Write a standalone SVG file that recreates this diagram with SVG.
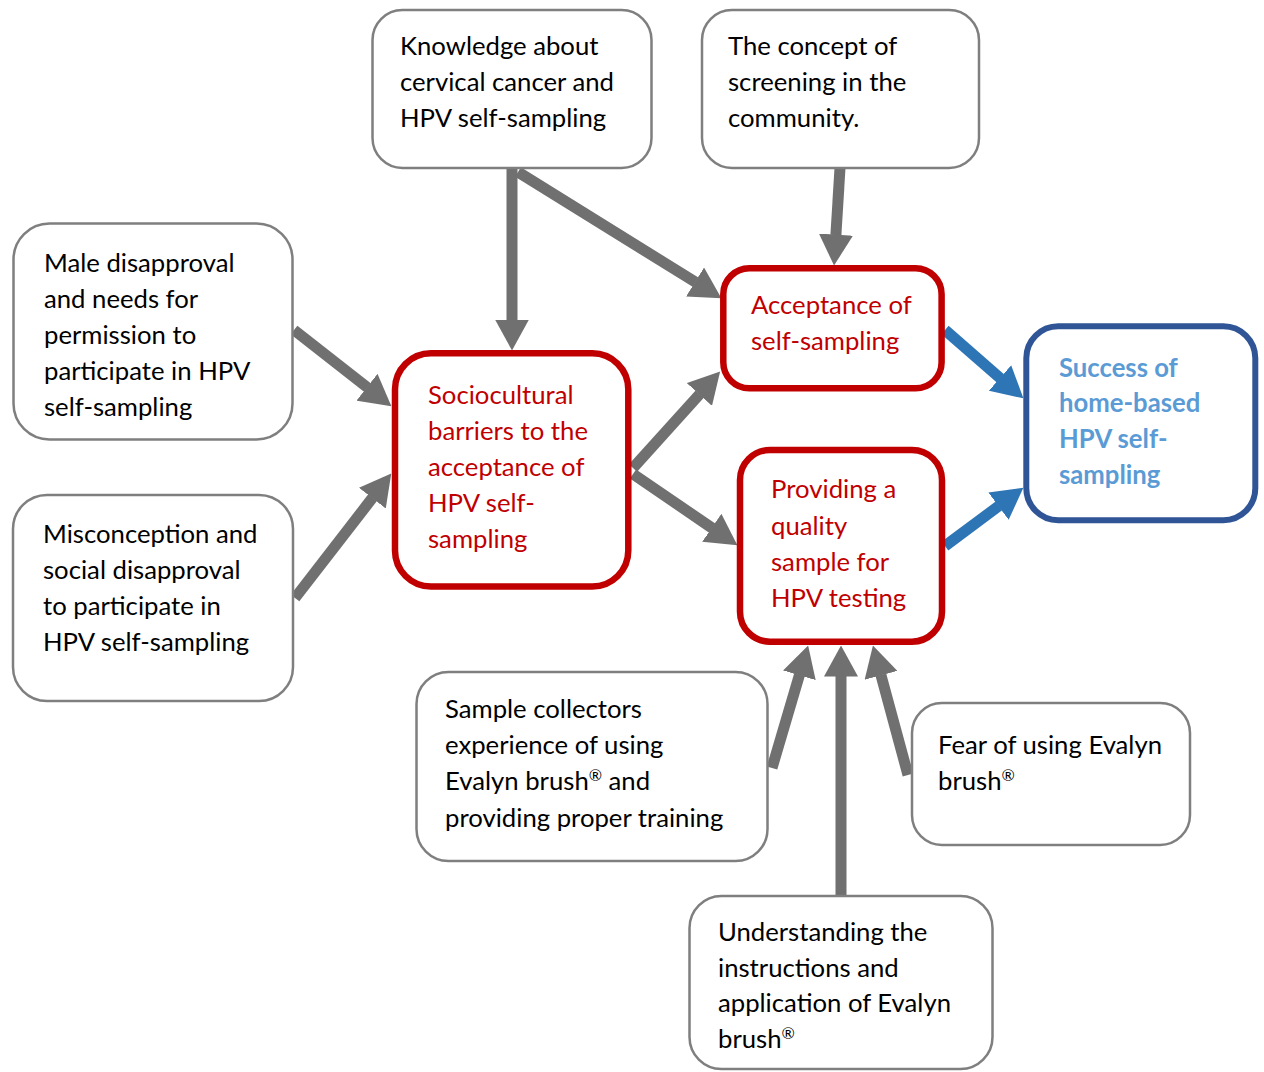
<svg xmlns="http://www.w3.org/2000/svg" width="1264" height="1072" viewBox="0 0 1264 1072">
<style>
.g{fill:#fff;stroke:#7f7f7f;stroke-width:2.5}
.r{fill:#fff;stroke:#c00000;stroke-width:6.5}
.b{fill:#fff;stroke:#2f5597;stroke-width:6}
text{font-family:Lato,"Open Sans","Liberation Sans",sans-serif;font-size:25.7px}
.tk{fill:#000}
.tr{fill:#c00000}
.tb{fill:#5b9bd5;font-weight:bold}
.ga{stroke:#707070;stroke-width:11;fill:none;marker-end:url(#ah)}
.ba{stroke:#2e75b6;stroke-width:11;fill:none;marker-end:url(#bh)}
.sup{font-size:16px}
</style>
<defs>
<marker id="ah" markerUnits="userSpaceOnUse" markerWidth="31" markerHeight="34" viewBox="0 0 31 34" refX="0.5" refY="17" orient="auto"><path d="M0,0 L31,17 L0,34 z" fill="#707070"/></marker>
<marker id="bh" markerUnits="userSpaceOnUse" markerWidth="31" markerHeight="34" viewBox="0 0 31 34" refX="0.5" refY="17" orient="auto"><path d="M0,0 L31,17 L0,34 z" fill="#2e75b6"/></marker>
</defs>
<g id="connectors">
<line class="ga" x1="512" y1="168" x2="512" y2="320"/>
<line class="ga" x1="518" y1="172" x2="695.5" y2="282.2"/>
<line class="ga" x1="840" y1="168" x2="835.9" y2="235.1"/>
<line class="ga" x1="294" y1="330" x2="367.4" y2="387.5"/>
<line class="ga" x1="295" y1="598" x2="372.6" y2="497.7"/>
<line class="ga" x1="633" y1="468" x2="699.7" y2="394.1"/>
<line class="ga" x1="633" y1="474" x2="712.2" y2="528.1"/>
<line class="ga" x1="772" y1="768" x2="799.5" y2="674.8"/>
<line class="ga" x1="841" y1="896" x2="841" y2="676"/>
<line class="ga" x1="908" y1="775" x2="880.9" y2="674.9"/>
<line class="ba" x1="945" y1="330" x2="1000.4" y2="378.3"/>
<line class="ba" x1="945" y1="546" x2="998.9" y2="505.9"/>
</g>
<g id="knowledge">
<rect class="g" x="372.5" y="10" width="279" height="158" rx="30"/>
<text class="tk"><tspan x="400" y="55">Knowledge about</tspan><tspan x="400" y="91">cervical cancer and</tspan><tspan x="400" y="127">HPV self-sampling</tspan></text>
</g>
<g id="concept">
<rect class="g" x="702" y="10" width="277" height="158" rx="30"/>
<text class="tk"><tspan x="728" y="55">The concept of</tspan><tspan x="728" y="91">screening in the</tspan><tspan x="728" y="127">community.</tspan></text>
</g>
<g id="male">
<rect class="g" x="13.5" y="223.5" width="279" height="216" rx="36"/>
<text class="tk"><tspan x="44" y="272">Male disapproval</tspan><tspan x="44" y="308">and needs for</tspan><tspan x="44" y="344">permission to</tspan><tspan x="44" y="380">participate in HPV</tspan><tspan x="44" y="416">self-sampling</tspan></text>
</g>
<g id="misconception">
<rect class="g" x="13" y="495" width="280" height="206" rx="34"/>
<text class="tk"><tspan x="43" y="543">Misconception and</tspan><tspan x="43" y="579">social disapproval</tspan><tspan x="43" y="615">to participate in</tspan><tspan x="43" y="651">HPV self-sampling</tspan></text>
</g>
<g id="sociocultural">
<rect class="r" x="395" y="353.3" width="233.3" height="233.3" rx="36"/>
<text class="tr"><tspan x="428" y="404">Sociocultural</tspan><tspan x="428" y="440">barriers to the</tspan><tspan x="428" y="476">acceptance of</tspan><tspan x="428" y="512">HPV self-</tspan><tspan x="428" y="548">sampling</tspan></text>
</g>
<g id="acceptance">
<rect class="r" x="723.3" y="268.3" width="218.3" height="120" rx="26"/>
<text class="tr"><tspan x="751" y="314">Acceptance of</tspan><tspan x="751" y="350">self-sampling</tspan></text>
</g>
<g id="providing">
<rect class="r" x="740" y="450" width="202" height="191.7" rx="30"/>
<text class="tr"><tspan x="771" y="498">Providing a</tspan><tspan x="771" y="535">quality</tspan><tspan x="771" y="571">sample for</tspan><tspan x="771" y="607">HPV testing</tspan></text>
</g>
<g id="success">
<rect class="b" x="1026.3" y="326.3" width="229" height="194" rx="32"/>
<text class="tb"><tspan x="1059" y="377">Success of</tspan><tspan x="1059" y="412">home-based</tspan><tspan x="1059" y="448">HPV self-</tspan><tspan x="1059" y="484">sampling</tspan></text>
</g>
<g id="collectors">
<rect class="g" x="416.5" y="672" width="351" height="189" rx="32"/>
<text class="tk"><tspan x="445" y="718">Sample collectors</tspan><tspan x="445" y="754">experience of using</tspan><tspan x="445" y="790">Evalyn brush</tspan><tspan class="sup" dy="-9">®</tspan><tspan dy="9"> and</tspan><tspan x="445" y="827">providing proper training</tspan></text>
</g>
<g id="fear">
<rect class="g" x="912" y="703" width="278" height="142" rx="30"/>
<text class="tk"><tspan x="938" y="754">Fear of using Evalyn</tspan><tspan x="938" y="790">brush</tspan><tspan class="sup" dy="-9">®</tspan></text>
</g>
<g id="understanding">
<rect class="g" x="689.5" y="896" width="303" height="173" rx="32"/>
<text class="tk"><tspan x="718" y="941">Understanding the</tspan><tspan x="718" y="977">instructions and</tspan><tspan x="718" y="1012">application of Evalyn</tspan><tspan x="718" y="1048">brush</tspan><tspan class="sup" dy="-9">®</tspan></text>
</g>
</svg>
